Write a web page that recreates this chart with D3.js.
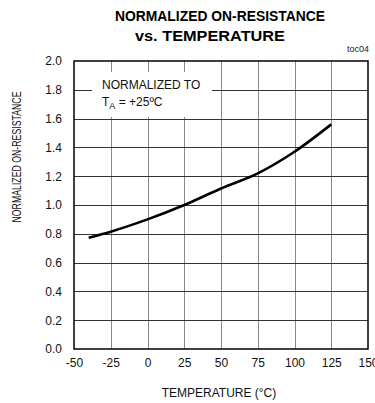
<!DOCTYPE html>
<html>
<head>
<meta charset="utf-8">
<script src="https://cdn.jsdelivr.net/npm/d3@7/dist/d3.min.js"></script>
<style>
  html, body { margin: 0; padding: 0; background: #fff; }
  svg { display: block; font-family: "Liberation Sans", Arial, sans-serif; }
</style>
</head>
<body>
<svg id="chart" width="375" height="403"></svg>
<script>
// Normalized on-resistance vs. temperature
const temperatures = [-40, -25, 0, 25, 50, 75, 100, 125];
const resistance   = [0.773, 0.815, 0.90, 1.0, 1.115, 1.22, 1.37, 1.56];
const xTicks = [-50, -25, 0, 25, 50, 75, 100, 125, 150];
const yTicks = [0.0, 0.2, 0.4, 0.6, 0.8, 1.0, 1.2, 1.4, 1.6, 1.8, 2.0];

const svg = d3.select("#chart");
const plot = { left: 74, right: 368, top: 61, bottom: 349 };

const x = d3.scaleLinear().domain([-50, 150]).range([plot.left, plot.right]);
const y = d3.scaleLinear().domain([0, 2]).range([plot.bottom, plot.top]);

// Title
svg.append("text").attr("x", 220).attr("y", 21).attr("text-anchor", "middle")
  .attr("font-size", 14.5).attr("font-weight", "bold")
  .attr("textLength", 210).attr("lengthAdjust", "spacingAndGlyphs")
  .text("NORMALIZED ON-RESISTANCE");
svg.append("text").attr("x", 210).attr("y", 41).attr("text-anchor", "middle")
  .attr("font-size", 14.5).attr("font-weight", "bold")
  .attr("textLength", 150).attr("lengthAdjust", "spacingAndGlyphs")
  .text("vs. TEMPERATURE");

svg.append("text").attr("x", 369).attr("y", 52).attr("text-anchor", "end")
  .attr("font-size", 9).attr("fill", "#222").text("toc04");

// Grid
const grid = svg.append("g");
grid.selectAll("line.v").data(xTicks.slice(1, -1)).join("line")
  .attr("class", "v")
  .attr("x1", d => Math.round(x(d)) + 0.5).attr("x2", d => Math.round(x(d)) + 0.5)
  .attr("y1", plot.top).attr("y2", plot.bottom)
  .attr("stroke", "#8a8a8a").attr("stroke-width", 1);
grid.selectAll("line.h").data(yTicks.slice(1, -1)).join("line")
  .attr("class", "h")
  .attr("x1", plot.left).attr("x2", plot.right)
  .attr("y1", d => Math.round(y(d)) + 0.5).attr("y2", d => Math.round(y(d)) + 0.5)
  .attr("stroke", "#333").attr("stroke-width", 1);

// Note box covering the grid
svg.append("rect").attr("x", 92).attr("y", 72).attr("width", 120).attr("height", 45)
  .attr("fill", "#fff");
svg.append("text").attr("x", 102).attr("y", 89).attr("font-size", 12)
  .attr("fill", "#111").text("NORMALIZED TO");
const note2 = svg.append("text").attr("x", 102).attr("y", 106).attr("font-size", 12).attr("fill", "#111");
note2.append("tspan").text("T");
note2.append("tspan").attr("font-size", 9).attr("dy", 3).text("A");
note2.append("tspan").attr("dy", -3).text(" = +25ºC");

// Frame
svg.append("rect").attr("x", plot.left).attr("y", plot.top)
  .attr("width", plot.right - plot.left).attr("height", plot.bottom - plot.top)
  .attr("fill", "none").attr("stroke", "#000").attr("stroke-width", 1.5);

// Axes (labels only)
const xAxis = svg.append("g").attr("transform", `translate(0,${plot.bottom})`)
  .call(d3.axisBottom(x).tickValues(xTicks).tickSize(0).tickPadding(9).tickFormat(d => String(d)));
xAxis.select(".domain").remove();
xAxis.selectAll("text").attr("font-size", 12).attr("fill", "#111")
  .attr("font-family", "'Liberation Sans', Arial, sans-serif");

const yAxis = svg.append("g").attr("transform", `translate(${plot.left},0)`)
  .call(d3.axisLeft(y).tickValues(yTicks).tickSize(0).tickPadding(12).tickFormat(d => d.toFixed(1)));
yAxis.select(".domain").remove();
yAxis.selectAll("text").attr("font-size", 12).attr("fill", "#111")
  .attr("font-family", "'Liberation Sans', Arial, sans-serif");

// Axis titles
svg.append("text").attr("x", 219).attr("y", 397).attr("text-anchor", "middle")
  .attr("font-size", 12).attr("fill", "#111").text("TEMPERATURE (°C)");
svg.append("text").attr("transform", "translate(21,157) rotate(-90)")
  .attr("text-anchor", "middle").attr("font-size", 12.5).attr("fill", "#111")
  .attr("textLength", 131).attr("lengthAdjust", "spacingAndGlyphs")
  .text("NORMALIZED ON-RESISTANCE");

// Curve
const line = d3.line()
  .x((d, i) => x(temperatures[i]))
  .y(d => y(d))
  .curve(d3.curveMonotoneX);
svg.append("path").datum(resistance)
  .attr("d", line)
  .attr("fill", "none").attr("stroke", "#000").attr("stroke-width", 2.6)
  .attr("stroke-linecap", "butt");
</script>
</body>
</html>
